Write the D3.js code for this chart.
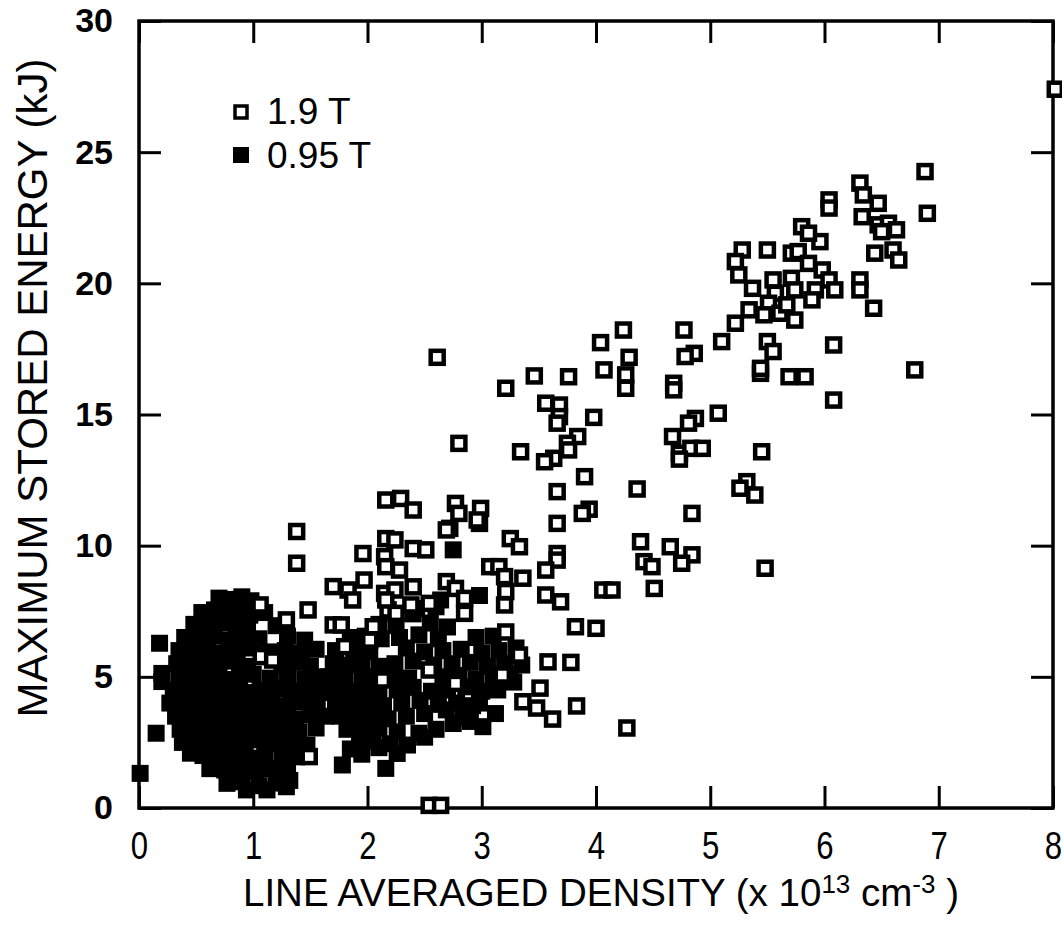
<!DOCTYPE html>
<html>
<head>
<meta charset="utf-8">
<script src="https://cdn.jsdelivr.net/npm/d3@7"></script>
<style>
  body { margin: 0; background: #fff; }
  svg { display: block; }
  .narrow { font-family: "Liberation Sans Narrow", "Arial Narrow", "Liberation Sans", Arial, sans-serif; }
</style>
</head>
<body>
<svg id="chart" width="1062" height="928"></svg>
<script>
// tick values
const xTicks = [0, 1, 2, 3, 4, 5, 6, 7, 8];
const yTicks = [0, 5, 10, 15, 20, 25, 30];
const legendLabels = ["1.9 T", "0.95 T"];

// 1.9 T shots (open squares): [density, energy]
const field19 = [
  [8.02,27.4],[6.88,24.26],[6.90,22.67],[6.31,23.82],[6.34,23.37],[6.47,23.05],[6.04,23.18],[6.04,22.87],
  [6.33,22.54],[6.47,22.23],[6.56,22.29],[6.63,22.04],[6.50,21.97],[5.80,22.16],[5.96,21.59],[5.86,21.91],
  [5.28,21.27],[5.50,21.27],[5.71,21.15],[5.77,21.21],[5.22,20.83],[5.25,20.32],[5.37,19.81],[5.55,20.13],
  [5.71,20.19],[5.86,20.76],[5.98,20.51],[6.04,20.13],[6.09,19.75],[5.92,19.75],[5.89,19.37],[5.74,19.75],
  [5.57,19.62],[5.51,19.24],[5.61,18.86],[5.74,18.60],[5.47,18.80],[5.34,18.99],[5.22,18.48],[5.67,19.18],
  [6.44,21.15],[6.60,21.27],[6.65,20.89],[6.31,20.13],[6.31,19.75],[6.43,19.05],[5.10,17.78],[4.77,18.22],
  [4.86,17.33],[4.78,17.21],[5.50,17.78],[5.55,17.40],[6.08,17.65],[5.44,16.57],[5.44,16.76],[5.69,16.44],
  [5.83,16.44],[6.08,15.55],[6.79,16.70],[4.68,16.19],[4.68,15.94],[5.07,15.05],[4.87,14.85],[4.81,14.67],
  [4.67,14.16],
  [2.61,17.18],[2.80,13.90],[3.21,16.00],[3.46,16.47],[3.76,16.44],[4.04,17.74],[4.24,18.22],[4.29,17.18],
  [4.07,16.70],[4.26,16.51],[4.26,16.00],[4.73,13.52],[4.83,13.71],[4.93,13.71],[4.73,13.30],[5.45,13.58],
  [3.56,15.43],[3.68,15.36],[3.68,14.92],[3.66,14.67],[3.98,14.89],[3.84,14.16],[3.75,13.90],[3.76,13.65],
  [3.63,13.33],[3.55,13.20],[3.34,13.58],[3.90,12.63],[3.66,12.06],[4.36,12.16],[4.84,11.23],[5.32,12.44],
  [5.26,12.19],[5.39,11.93],[5.48,9.14],[3.94,11.39],[3.88,11.23],[3.66,10.85],[3.66,9.70],[3.66,9.45],
  [3.56,9.07],[3.56,8.12],[3.69,7.86],[4.39,10.15],[4.42,9.39],[4.49,9.20],[4.65,9.96],[4.84,9.65],
  [4.75,9.33],[4.51,8.37],[4.06,8.31],[4.14,8.31],[3.25,10.27],[3.33,9.96],[3.07,9.20],[3.15,9.20],
  [3.20,8.82],[3.36,8.76],[3.21,8.25],[3.20,7.74],[2.69,8.63],[2.77,8.37],[2.85,7.99],[2.85,7.42],
  [2.15,8.18],[2.18,7.55],[2.25,7.42],[2.38,7.74],[2.54,7.80],[2.16,11.74],[2.29,11.80],[2.40,11.36],
  [2.77,11.61],[2.80,11.23],[2.99,11.42],[2.98,10.85],[2.72,10.66],[2.16,10.27],[2.24,10.22],[2.40,9.89],
  [2.51,9.84],[2.15,9.58],[2.16,9.20],[2.28,9.07],[2.24,8.31],[2.40,8.43],[2.69,10.60],[2.96,10.98],
  [1.38,10.54],[1.38,9.33],[1.06,7.74],[1.48,7.55],[1.29,7.17],[1.70,8.44],[1.83,8.31],[1.87,7.93],
  [1.97,8.69],[1.96,9.70],[2.16,7.93],[1.70,6.98],[1.77,6.98],[1.80,6.15],[2.05,6.91],[2.02,6.40],
  [2.13,4.88],[1.07,5.77],[1.17,5.64],[1.49,1.96],[2.54,0.10],[2.64,0.10],[3.21,6.71],[3.33,5.83],
  [3.18,5.07],[3.36,4.05],[2.77,4.75],[2.54,5.26],[3.58,5.57],[3.51,4.57],[3.48,3.81],[3.62,3.39],
  [3.83,3.89],[4.27,3.05],[3.82,6.91],[4.00,6.85],[3.78,5.55]
];

// 0.95 T shots (filled squares): [density, energy]
const field095 = [
  [0.01,1.32],[0.15,2.85],[0.18,6.28],[0.20,5.13],[0.20,4.82],[0.45,2.09],[2.75,9.84],[2.16,1.51],
  [1.78,1.64],[3.01,3.10],[2.45,2.85],[2.64,7.93],[2.98,8.10],[2.40,7.40],
  [0.70,8.0],[0.81,7.95],[0.90,8.05],[0.98,7.9],
  [0.55,7.45],[0.66,7.55],[0.76,7.4],[0.88,7.5],[0.97,7.35],[1.10,7.45],
  [0.48,7.0],[0.60,6.95],[0.72,7.05],[0.85,6.9],[0.95,7.0],[1.20,6.95],
  [0.40,6.5],[0.52,6.45],[0.66,6.55],[0.78,6.4],[0.92,6.5],[1.05,6.45],[1.30,6.55],[1.45,6.4],
  [0.35,6.0],[0.47,5.95],[0.60,6.05],[0.73,5.9],[0.86,6.0],[1.00,6.1],[1.15,5.95],[1.28,6.0],[1.42,5.9],[1.55,6.05],
  [0.33,5.5],[0.45,5.55],[0.58,5.45],[0.70,5.5],[0.82,5.6],[0.95,5.4],[1.25,5.45],[1.38,5.55],[1.50,5.4],
  [0.35,5.0],[0.48,4.95],[0.62,5.05],[0.75,4.9],[0.88,5.0],[1.00,5.1],[1.15,4.95],[1.30,5.05],[1.45,4.9],[1.58,5.0],
  [0.30,4.5],[0.42,4.55],[0.55,4.45],[0.68,4.5],[0.80,4.6],[0.93,4.4],[1.06,4.5],[1.20,4.55],[1.33,4.45],[1.47,4.5],[1.60,4.4],
  [0.27,4.0],[0.40,3.95],[0.53,4.05],[0.66,3.9],[0.78,4.0],[0.90,4.1],[1.03,3.95],[1.16,4.0],[1.30,3.9],[1.43,4.05],[1.56,4.0],
  [0.32,3.5],[0.45,3.45],[0.58,3.55],[0.70,3.4],[0.83,3.5],[0.96,3.6],[1.10,3.45],[1.23,3.5],[1.37,3.4],[1.50,3.55],[1.63,3.5],
  [0.36,3.0],[0.50,2.95],[0.62,3.05],[0.75,2.9],[0.88,3.0],[1.00,3.1],[1.13,2.95],[1.26,3.0],[1.40,2.9],[1.55,3.05],
  [0.38,2.5],[0.52,2.45],[0.66,2.55],[0.80,2.4],[0.93,2.5],[1.06,2.6],[1.20,2.45],[1.33,2.5],[1.47,2.4],
  [0.56,2.0],[0.70,1.95],[0.84,2.05],[0.97,1.9],[1.10,2.0],[1.25,2.1],[1.38,1.95],
  [0.62,1.5],[0.75,1.45],[0.88,1.55],[1.02,1.4],[1.16,1.5],[1.30,1.55],
  [0.77,0.94],[0.90,1.0],[1.05,0.85],[1.20,0.95],[1.32,1.05],
  [0.94,0.69],[1.12,0.69],[1.29,0.81],
  [2.43,7.6],[2.60,7.67],
  [2.10,7.0],[2.25,6.95],[2.55,7.05],[2.70,6.9],
  [1.85,6.5],[1.98,6.55],[2.12,6.45],[2.28,6.5],[2.45,6.6],[2.62,6.45],[2.95,6.5],[3.10,6.55],
  [1.72,6.0],[1.88,6.05],[2.02,5.95],[2.34,6.1],[2.50,5.95],[2.66,6.0],[2.82,6.05],[3.00,5.9],[3.15,6.0],[3.30,6.1],
  [1.70,5.5],[1.82,5.45],[1.95,5.55],[2.10,5.4],[2.24,5.5],[2.40,5.6],[2.58,5.45],[2.74,5.5],[2.90,5.55],[3.05,5.4],[3.20,5.5],[3.35,5.45],
  [1.66,5.0],[1.80,5.05],[1.95,4.95],[2.08,5.0],[2.22,5.1],[2.36,4.95],[2.66,5.0],[2.80,5.05],[2.95,4.9],[3.10,5.0],[3.25,5.1],
  [1.68,4.5],[1.82,4.45],[1.96,4.55],[2.10,4.4],[2.26,4.5],[2.40,4.6],[2.56,4.45],[2.70,4.5],[2.86,4.62],[3.00,4.45],[3.14,4.5],[3.28,4.8],
  [1.72,4.0],[1.86,3.95],[2.00,4.05],[2.14,3.9],[2.30,4.0],[2.46,4.1],[2.62,3.95],[2.78,4.0],[2.92,3.9],[2.98,4.0],
  [1.76,3.5],[1.90,3.45],[2.04,3.55],[2.18,3.4],[2.34,3.5],[2.50,3.6],[2.69,3.74],[2.84,3.45],[3.12,3.6],
  [1.82,3.0],[1.96,2.95],[2.10,3.05],[2.26,2.9],[2.60,3.0],[2.75,3.22],[2.90,3.3],
  [1.93,2.59],[2.05,2.55],[2.20,2.45],[2.35,2.4],[2.50,2.7],
  [1.85,2.25],[2.10,2.3],[1.95,2.05],[2.26,2.08]
];

const plotLeft = 139, plotRight = 1053, plotTop = 21, plotBottom = 808;

const svg = d3.select("#chart");

const x = d3.scaleLinear().domain([0, 8]).range([plotLeft, plotRight]);
const y = d3.scaleLinear().domain([0, 30]).range([plotBottom, plotTop]);

const tickLen = 22;

// axes with inward ticks
const gx = svg.append("g").attr("transform", `translate(0,${plotBottom})`)
  .call(d3.axisBottom(x).tickValues(xTicks).tickSizeInner(-tickLen).tickSizeOuter(0).tickPadding(24).tickFormat(d3.format("d")));
svg.append("g").attr("transform", `translate(0,${plotTop})`)
  .call(d3.axisTop(x).tickValues(xTicks).tickSizeInner(-tickLen).tickSizeOuter(0).tickFormat(""));
const gy = svg.append("g").attr("transform", `translate(${plotLeft},0)`)
  .call(d3.axisLeft(y).tickValues(yTicks).tickSizeInner(-tickLen).tickSizeOuter(0).tickPadding(26).tickFormat(d3.format("d")));
svg.append("g").attr("transform", `translate(${plotRight},0)`)
  .call(d3.axisRight(y).tickValues(yTicks).tickSizeInner(-tickLen).tickSizeOuter(0).tickFormat(""));

svg.selectAll(".domain").remove();
svg.selectAll(".tick line").attr("stroke", "#000").attr("stroke-width", 3);

// condensed look for the x tick numbers
gx.selectAll("text")
  .attr("class", "narrow")
  .attr("font-size", 38)
  .attr("transform", "scale(0.82,1)")
  .attr("fill", "#000");
gy.selectAll("text")
  .attr("font-family", "Liberation Sans, Arial, sans-serif")
  .attr("font-weight", "bold")
  .attr("font-size", 34)
  .attr("fill", "#000");

// frame
svg.append("rect")
  .attr("x", plotLeft).attr("y", plotTop)
  .attr("width", plotRight - plotLeft).attr("height", plotBottom - plotTop)
  .attr("fill", "none").attr("stroke", "#000").attr("stroke-width", 3.5);

const sq = 13;

// 0.95 T filled squares
svg.append("g").selectAll("rect")
  .data(field095)
  .join("rect")
  .attr("x", d => x(d[0]) - 8.5)
  .attr("y", d => y(d[1]) - 8.5)
  .attr("width", 17).attr("height", 17)
  .attr("fill", "#000");

// 1.9 T open squares
svg.append("g").selectAll("rect")
  .data(field19)
  .join("rect")
  .attr("x", d => x(d[0]) - sq / 2)
  .attr("y", d => y(d[1]) - sq / 2)
  .attr("width", sq).attr("height", sq)
  .attr("fill", "#fff")
  .attr("stroke", "#000")
  .attr("stroke-width", 4.5);

// legend
const legend = svg.append("g");
legend.append("rect").attr("x", 235).attr("y", 106).attr("width", 12).attr("height", 12)
  .attr("fill", "#fff").attr("stroke", "#000").attr("stroke-width", 3.5);
legend.append("rect").attr("x", 233).attr("y", 147).attr("width", 16).attr("height", 16)
  .attr("fill", "#000");
legend.selectAll("text")
  .data(legendLabels)
  .join("text")
  .attr("class", "narrow")
  .attr("x", 267)
  .attr("y", (d, i) => 124 + i * 44)
  .attr("font-size", 37)
  .text(d => d);

// axis titles
const xt = svg.append("text")
  .attr("class", "narrow")
  .attr("x", 601).attr("y", 906)
  .attr("text-anchor", "middle")
  .attr("font-size", 38.5);
xt.append("tspan").text("LINE AVERAGED DENSITY (x 10");
xt.append("tspan").attr("dy", -13).attr("font-size", 26).text("13");
xt.append("tspan").attr("dy", 13).text(" cm");
xt.append("tspan").attr("dy", -13).attr("font-size", 26).text("-3");
xt.append("tspan").attr("dy", 13).text(" )");

svg.append("text")
  .attr("class", "narrow")
  .attr("transform", "translate(47,388) rotate(-90)")
  .attr("text-anchor", "middle")
  .attr("font-size", 42)
  .text("MAXIMUM STORED ENERGY (kJ)");
</script>
</body>
</html>
